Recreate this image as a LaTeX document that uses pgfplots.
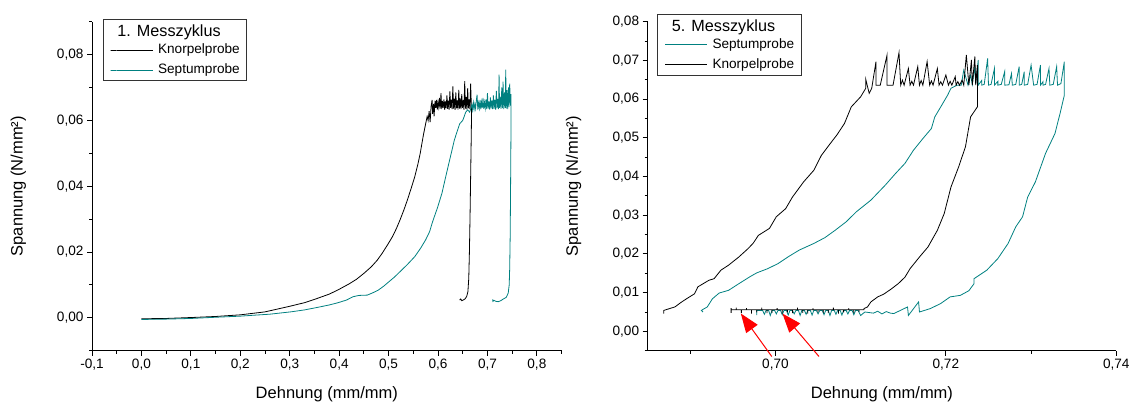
\documentclass[border=0pt]{standalone}
\usepackage{fontspec}
\setmainfont{Liberation Sans}
\usepackage{pgfplots}
\pgfplotsset{compat=1.18}
\usetikzlibrary{arrows.meta}
\definecolor{septum}{RGB}{0,128,128}
\newcommand{\tickfont}{\fontsize{13.6}{16}\selectfont}
\newcommand{\labfont}{\fontsize{16.5}{19}\selectfont}
\newcommand{\titfont}{\fontsize{16.2}{19}\selectfont}
\pgfplotsset{
  myaxis/.style={
    scale only axis,
    axis lines=left,
    axis line style={-, line width=0.9pt},
    tick align=outside,
    major tick length=5pt, minor tick length=3pt,
    every tick/.style={black, line width=0.9pt},
    tick label style={font=\tickfont},
    /pgf/number format/assume math mode=true,
    /pgf/number format/use comma,
    /pgf/number format/1000 sep={},
    scaled ticks=false,
    legend cell align=left,
    legend image code/.code={\path (0pt,0pt) rectangle (6pt,0pt); \draw[##1] (6pt,0pt) -- (42pt,0pt);},
    legend style={draw=black!80, line width=0.8pt, inner xsep=7pt, inner ysep=4pt,
      row sep=7pt, column sep=5pt, font=\tickfont,
      nodes={inner sep=0pt, text height=10pt, text depth=3pt}},
    every axis x label/.style={at={(axis description cs:0.5,-0.1316)},anchor=center,font=\labfont},
  }
}
\begin{document}
\begin{tikzpicture}
\useasboundingbox (0,0) rectangle (1131pt,403pt);
% ---------------- left panel ----------------
\begin{axis}[myaxis,
  at={(92pt,52.3pt)}, anchor=south west,
  width=469.6pt, height=329pt,
  xmin=-0.1, xmax=0.85, ymin=-0.01, ymax=0.09,
  xtick={-0.1,0,0.1,0.2,0.3,0.4,0.5,0.6,0.7,0.8},
  minor xtick={-0.05,0.05,0.15,0.25,0.35,0.45,0.55,0.65,0.75,0.85},
  ytick={0,0.02,0.04,0.06,0.08},
  minor ytick={-0.01,0.01,0.03,0.05,0.07,0.09},
  xticklabel style={/pgf/number format/.cd, fixed, fixed zerofill, precision=1},
  yticklabel style={/pgf/number format/.cd, fixed, fixed zerofill, precision=2},
  xlabel={Dehnung (mm/mm)},
  ylabel={Spannung (N/mm²)},
  every axis y label/.style={at={(axis description cs:-0.157,0.5)},rotate=90,anchor=center,font=\labfont},
  legend style={at={(axis description cs:0.0232,1.008)}, anchor=north west},
]
\addlegendimage{empty legend}
\addlegendentry{\hspace{-40.6pt}\raisebox{-3pt}{\titfont 1. Messzyklus}}
\addplot[black, line width=0.8pt] table {
0.000 -0.0003
0.050 -0.0002
0.104 0.0001
0.150 0.0004
0.200 0.0009
0.250 0.0018
0.300 0.0035
0.330 0.0046
0.354 0.0058
0.380 0.0072
0.398 0.0085
0.420 0.0103
0.435 0.0117
0.450 0.0135
0.465 0.0155
0.477 0.0175
0.487 0.0196
0.498 0.0222
0.508 0.0247
0.516 0.0272
0.523 0.0297
0.531 0.0328
0.538 0.0358
0.546 0.0395
0.553 0.0429
0.559 0.0465
0.564 0.0500
0.568 0.0535
0.571 0.0560
0.575 0.0590
0.578 0.0612
0.580 0.0600
0.582 0.0628
0.584 0.0595
0.586 0.0643
0.588 0.0662
0.589 0.0620
0.591 0.0650
0.592 0.0612
0.594 0.0660
0.5955 0.0638
0.597 0.0662
0.5985 0.0633
0.600 0.0656
0.6015 0.0640
0.603 0.0668
0.6045 0.0636
0.606 0.0683
0.6075 0.0634
0.609 0.0659
0.6105 0.0638
0.612 0.0664
0.6135 0.0632
0.615 0.0658
0.6165 0.0637
0.618 0.0676
0.6195 0.0635
0.621 0.0660
0.6225 0.0633
0.624 0.0688
0.6255 0.0638
0.627 0.0663
0.6285 0.0634
0.630 0.0703
0.6315 0.0636
0.633 0.0666
0.6345 0.0632
0.636 0.0685
0.6375 0.0637
0.639 0.0661
0.6405 0.0633
0.642 0.0693
0.6435 0.0636
0.645 0.0667
0.6465 0.0634
0.648 0.0680
0.6495 0.0638
0.651 0.0662
0.6525 0.0632
0.654 0.0719
0.6555 0.0636
0.657 0.0671
0.6585 0.0633
0.660 0.0698
0.6615 0.0637
0.663 0.0664
0.6645 0.0634
0.666 0.0712
0.6675 0.0640
0.6680 0.0640
0.6672 0.0550
0.6660 0.0430
0.6648 0.0310
0.6635 0.0200
0.6622 0.0120
0.6605 0.0080
0.6580 0.0065
0.6550 0.0058
0.6510 0.0054
0.6480 0.0052
0.6460 0.0057
0.6440 0.0054
};
\addlegendentry{Knorpelprobe}
\addplot[septum, line width=0.8pt] table {
0.000 -0.0005
0.050 -0.0004
0.100 -0.0002
0.155 0.0002
0.200 0.0005
0.229 0.0008
0.260 0.0011
0.302 0.0018
0.330 0.0024
0.354 0.0031
0.380 0.0039
0.398 0.0046
0.415 0.0054
0.428 0.0064
0.440 0.0068
0.457 0.0069
0.468 0.0076
0.479 0.0084
0.490 0.0096
0.501 0.0110
0.512 0.0124
0.523 0.0140
0.538 0.0162
0.553 0.0186
0.565 0.0212
0.575 0.0237
0.583 0.0262
0.589 0.0292
0.599 0.0335
0.608 0.0379
0.615 0.0425
0.622 0.0470
0.628 0.0508
0.633 0.0540
0.639 0.0568
0.644 0.0590
0.650 0.0600
0.653 0.0612
0.656 0.0625
0.660 0.0632
0.664 0.0625
0.667 0.0640
0.6685 0.0648
0.670 0.0632
0.6715 0.0654
0.673 0.0634
0.6745 0.0650
0.676 0.0636
0.6775 0.0661
0.679 0.0678
0.6805 0.0633
0.682 0.0653
0.6835 0.0637
0.685 0.0662
0.6865 0.0634
0.688 0.0656
0.6895 0.0638
0.691 0.0668
0.6925 0.0635
0.694 0.0655
0.6955 0.0637
0.697 0.0664
0.6985 0.0634
0.700 0.0683
0.7015 0.0636
0.703 0.0658
0.7045 0.0633
0.706 0.0670
0.7075 0.0637
0.709 0.0660
0.7105 0.0634
0.712 0.0676
0.7135 0.0636
0.715 0.0662
0.7165 0.0633
0.718 0.0690
0.7195 0.0637
0.721 0.0665
0.7225 0.0634
0.7235 0.0739
0.7245 0.0638
0.726 0.0672
0.7275 0.0635
0.729 0.0700
0.7305 0.0637
0.7315 0.0718
0.733 0.0634
0.7345 0.0685
0.736 0.0638
0.737 0.0754
0.738 0.0636
0.7395 0.0692
0.741 0.0634
0.7425 0.0700
0.7435 0.0640
0.745 0.0712
0.7465 0.0645
0.7475 0.0680
0.7478 0.0640
0.7475 0.0550
0.7468 0.0400
0.7460 0.0250
0.7450 0.0150
0.7440 0.0100
0.7420 0.0075
0.7380 0.0062
0.7330 0.0058
0.7270 0.0052
0.7220 0.0049
0.7170 0.0050
0.7130 0.0053
0.7110 0.0050
0.7105 0.0056
};
\addlegendentry{Septumprobe}
\end{axis}
% ---------------- right panel ----------------
\begin{axis}[myaxis,
  at={(647.6pt,52.3pt)}, anchor=south west,
  width=468.7pt, height=329pt,
  clip=false,
  xmin=0.685, xmax=0.74, ymin=-0.005, ymax=0.08,
  xtick={0.70,0.72,0.74},
  minor xtick={0.69,0.71,0.73},
  ytick={0,0.01,0.02,0.03,0.04,0.05,0.06,0.07,0.08},
  minor ytick={-0.005,0.005,0.015,0.025,0.035,0.045,0.055,0.065,0.075},
  xticklabel style={/pgf/number format/.cd, fixed, fixed zerofill, precision=2},
  yticklabel style={/pgf/number format/.cd, fixed, fixed zerofill, precision=2},
  xlabel={Dehnung (mm/mm)},
  ylabel={Spannung (N/mm²)},
  every axis y label/.style={at={(axis description cs:-0.158,0.5)},rotate=90,anchor=center,font=\labfont},
  legend style={at={(axis description cs:0.0207,1.0234)}, anchor=north west},
]
\addlegendimage{empty legend}
\addlegendentry{\hspace{-40.6pt}\raisebox{-3pt}{\titfont 5. Messzyklus}}
\addplot[septum, line width=0.8pt] table {
0.6978 0.0054
0.6978 0.0042
0.6978 0.0054
0.6985 0.0054
0.6987 0.0044
0.6989 0.0054
0.6992 0.0054
0.6994 0.0041
0.6996 0.0054
0.6999 0.0054
0.7001 0.0045
0.7003 0.0054
0.7006 0.0054
0.7008 0.0043
0.7010 0.0054
0.7013 0.0054
0.7015 0.0042
0.7017 0.0054
0.7020 0.0054
0.7022 0.0045
0.7024 0.0054
0.7027 0.0054
0.7029 0.0041
0.7031 0.0054
0.7034 0.0054
0.7036 0.0044
0.7038 0.0054
0.7041 0.0054
0.7043 0.0042
0.7045 0.0054
0.7048 0.0054
0.7050 0.0045
0.7052 0.0054
0.7055 0.0054
0.7057 0.0043
0.7059 0.0054
0.7062 0.0054
0.7064 0.0041
0.7066 0.0054
0.7069 0.0054
0.7071 0.0044
0.7073 0.0054
0.7076 0.0054
0.7078 0.0042
0.7080 0.0054
0.7083 0.0054
0.7085 0.0045
0.7087 0.0054
0.7090 0.0054
0.7092 0.0043
0.7094 0.0054
0.7097 0.0054
0.7100 0.0041
0.7105 0.0050
0.7115 0.0047
0.7120 0.0052
0.7125 0.0045
0.7130 0.0051
0.7135 0.0047
0.7139 0.0046
0.7155 0.0063
0.7156 0.0041
0.7168 0.0076
0.7169 0.0050
0.7182 0.0059
0.7194 0.0072
0.7205 0.0089
0.7217 0.0093
0.7227 0.0105
0.7233 0.0123
0.7233 0.0136
0.7248 0.0158
0.7261 0.0188
0.7273 0.0227
0.7282 0.0270
0.7290 0.0296
0.7296 0.0347
0.7305 0.0386
0.7317 0.0460
0.7328 0.0511
0.7334 0.0563
0.7339 0.0610
0.7339 0.0636
0.7339 0.0697
0.7335 0.0640
0.7331 0.0636
0.7330 0.0684
0.7326 0.0638
0.7322 0.0636
0.7321 0.0679
0.7317 0.0638
0.7314 0.0636
0.7314 0.0645
0.7311 0.0636
0.7311 0.0688
0.7307 0.0638
0.7303 0.0636
0.7300 0.0688
0.7296 0.0638
0.7292 0.0636
0.7292 0.0671
0.7289 0.0638
0.7286 0.0636
0.7286 0.0684
0.7282 0.0638
0.7278 0.0636
0.7277 0.0666
0.7274 0.0637
0.7269 0.0636
0.7269 0.0671
0.7265 0.0638
0.7261 0.0636
0.7261 0.0646
0.7257 0.0636
0.7257 0.0679
0.7253 0.0638
0.7250 0.0636
0.7249 0.0705
0.7245 0.0638
0.7242 0.0636
0.7242 0.0648
0.7238 0.0636
0.7238 0.0701
0.7235 0.0640
0.7234 0.0684
0.7231 0.0638
0.7229 0.0662
0.7226 0.0636
0.7221 0.0675
0.7218 0.0636
0.7213 0.0636
0.7206 0.0628
0.7202 0.0610
0.7194 0.0580
0.7187 0.0554
0.7183 0.0524
0.7173 0.0498
0.7162 0.0468
0.7152 0.0434
0.7141 0.0408
0.7129 0.0378
0.7112 0.0339
0.7095 0.0309
0.7083 0.0283
0.7070 0.0261
0.7058 0.0242
0.7045 0.0227
0.7028 0.0210
0.7016 0.0194
0.7003 0.0175
0.6991 0.0162
0.6978 0.0151
0.6970 0.0141
0.6957 0.0123
0.6945 0.0106
0.6934 0.0099
0.6926 0.0084
0.6920 0.0063
0.6916 0.0058
0.6913 0.0054
0.6915 0.0050
};
\addlegendentry{Septumprobe}
\addplot[black, line width=0.8pt] table {
0.6948 0.0060
0.6948 0.0048
0.6948 0.0056
0.6954 0.0056
0.6954 0.0061
0.6954 0.0056
0.6960 0.0056
0.6960 0.0047
0.6960 0.0056
0.6966 0.0056
0.6966 0.0060
0.6966 0.0056
0.6972 0.0056
0.6972 0.0046
0.6972 0.0056
0.6978 0.0056
0.6978 0.0049
0.6978 0.0056
0.6984 0.0056
0.6984 0.0061
0.6984 0.0056
0.6990 0.0056
0.6990 0.0047
0.6990 0.0056
0.6996 0.0056
0.6996 0.0048
0.6996 0.0056
0.7002 0.0056
0.7002 0.0060
0.7002 0.0056
0.7008 0.0056
0.7008 0.0046
0.7008 0.0056
0.7014 0.0056
0.7014 0.0049
0.7014 0.0056
0.7020 0.0056
0.7020 0.0047
0.7020 0.0056
0.7026 0.0056
0.7026 0.0061
0.7026 0.0056
0.7032 0.0056
0.7032 0.0048
0.7032 0.0056
0.7038 0.0056
0.7038 0.0046
0.7038 0.0056
0.7044 0.0056
0.7044 0.0060
0.7044 0.0056
0.7050 0.0056
0.7050 0.0049
0.7050 0.0056
0.7056 0.0056
0.7056 0.0047
0.7056 0.0056
0.7062 0.0056
0.7062 0.0048
0.7062 0.0056
0.7068 0.0056
0.7068 0.0061
0.7068 0.0056
0.7074 0.0056
0.7074 0.0046
0.7074 0.0056
0.7080 0.0056
0.7080 0.0049
0.7080 0.0056
0.7086 0.0056
0.7086 0.0060
0.7086 0.0056
0.7092 0.0056
0.7092 0.0047
0.7092 0.0056
0.7098 0.0056
0.7098 0.0050
0.7098 0.0056
0.7104 0.0056
0.7104 0.0059
0.7108 0.0063
0.7112 0.0076
0.7120 0.0089
0.7127 0.0096
0.7131 0.0102
0.7135 0.0108
0.7144 0.0123
0.7152 0.0140
0.7158 0.0162
0.7169 0.0192
0.7179 0.0218
0.7190 0.0261
0.7198 0.0304
0.7206 0.0373
0.7215 0.0425
0.7223 0.0477
0.7229 0.0554
0.7237 0.0580
0.7237 0.0636
0.7237 0.0688
0.7235 0.0636
0.7234 0.0710
0.7231 0.0636
0.7230 0.0701
0.7227 0.0636
0.7224 0.0714
0.7221 0.0636
0.7219 0.0649
0.7216 0.0636
0.7214 0.0645
0.7212 0.0636
0.7211 0.0658
0.7207 0.0636
0.7205 0.0646
0.7203 0.0636
0.7200 0.0662
0.7196 0.0636
0.7194 0.0645
0.7192 0.0636
0.7190 0.0679
0.7185 0.0636
0.7183 0.0647
0.7181 0.0636
0.7178 0.0697
0.7173 0.0636
0.7171 0.0648
0.7169 0.0636
0.7167 0.0684
0.7162 0.0636
0.7160 0.0646
0.7158 0.0636
0.7156 0.0679
0.7151 0.0636
0.7149 0.0649
0.7147 0.0636
0.7145 0.0720
0.7138 0.0636
0.7131 0.0636
0.7131 0.0714
0.7123 0.0636
0.7118 0.0636
0.7118 0.0697
0.7113 0.0628
0.7110 0.0615
0.7106 0.0651
0.7106 0.0628
0.7100 0.0606
0.7089 0.0580
0.7081 0.0537
0.7072 0.0507
0.7066 0.0490
0.7054 0.0455
0.7045 0.0416
0.7033 0.0386
0.7020 0.0347
0.7012 0.0317
0.7001 0.0296
0.6993 0.0266
0.6980 0.0248
0.6974 0.0228
0.6968 0.0214
0.6957 0.0192
0.6945 0.0171
0.6936 0.0158
0.6928 0.0136
0.6922 0.0132
0.6909 0.0115
0.6905 0.0097
0.6897 0.0086
0.6890 0.0076
0.6882 0.0063
0.6876 0.0059
0.6869 0.0054
0.6869 0.0046
};
\addlegendentry{Knorpelprobe}
\draw[red, line width=1pt, -{Triangle[length=19pt,width=14pt]}] (axis cs:0.69957,-0.0065) -- (axis cs:0.69594,0.0046);
\draw[red, line width=1pt, -{Triangle[length=19pt,width=14pt]}] (axis cs:0.70511,-0.0065) -- (axis cs:0.70082,0.0046);
\end{axis}
\end{tikzpicture}
\end{document}
